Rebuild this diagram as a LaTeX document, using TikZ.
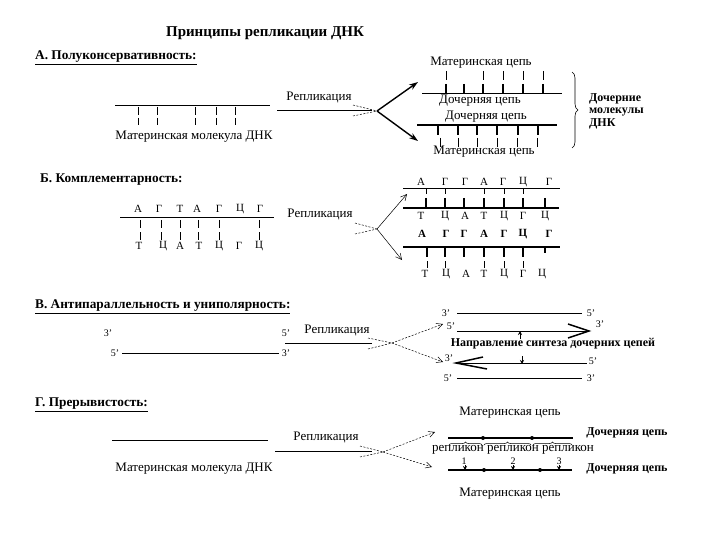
\documentclass[tikz,border=0pt]{standalone}
\usepackage{fontspec}
\setmainfont{Liberation Serif}
\usetikzlibrary{arrows.meta,decorations.pathreplacing}
\begin{document}
\begin{tikzpicture}[x=1pt,y=-1pt,
  lbl/.style={font=\fontsize{13}{14}\selectfont, inner sep=0pt},
  blbl/.style={font=\bfseries\fontsize{12}{13}\selectfont, inner sep=0pt},
  hdr/.style={font=\bfseries\fontsize{13.3}{15}\selectfont, inner sep=0pt, anchor=west},
  nuc/.style={font=\fontsize{11}{12}\selectfont, inner sep=0pt},
  bnuc/.style={font=\bfseries\fontsize{11}{12}\selectfont, inner sep=0pt},
  prm/.style={font=\fontsize{10}{11}\selectfont, inner sep=0pt},
  strand/.style={line width=0.7pt},
  strandthick/.style={line width=1.8pt},
  tk/.style={line width=0.6pt},
  tkthick/.style={line width=1.8pt},
  bigarr/.style={line width=1.4pt, -{Stealth[length=9pt,width=6pt]}},
  thinarr/.style={line width=0.5pt, -{Straight Barb[length=6pt,width=6pt]}},
  dasharr/.style={line width=0.5pt, dashed, dash pattern=on 2pt off 1.5pt, -{Straight Barb[length=6pt,width=6pt]}},
  entry/.style={line width=0.5pt, dash pattern=on 2pt off 1.5pt},
  ptr/.style={line width=0.8pt, -{Stealth[length=4pt,width=4pt]}},
  fat/.style={line width=1.5pt}
]
\useasboundingbox (0,0) rectangle (720,540);

% Title
\node[font=\bfseries\fontsize{15}{17}\selectfont, inner sep=0pt] (title) at (265,33) {Принципы репликации ДНК};

% ===== A =====
\node[hdr] (hA) at (35,58) {\underline{А. Полуконсервативность:}};
\draw[strand] (115,105) -- (270,105);
\foreach \x in {138,157,195,216,235} \draw[tk] (\x,107) -- (\x,115) (\x,118) -- (\x,125);
\node[lbl] (mA) at (194,137) {Материнская молекула ДНК};
\draw[strand] (277,110) -- (372,110);
\node[lbl] (repA) at (319,98) {Репликация};
\coordinate (fA) at (377,111);
\coordinate (eA1) at (353,105); \coordinate (eA2) at (353,116);
\draw[entry] (eA1) -- (fA); \draw[entry] (eA2) -- (fA);
\coordinate (uA) at (418,82); \coordinate (dA) at (418,141);
\draw[bigarr] (fA) -- (uA);
\draw[bigarr] (fA) -- (dA);
\node[lbl] (mcA1) at (481,63) {Материнская цепь};
\foreach \x in {446,483,503,523,543} \draw[tk] (\x,71) -- (\x,80);
\foreach \x in {446,464,483,503,523,543} \draw[tkthick] (\x,84) -- (\x,93);
\draw[strand] (422,93) -- (562,93);
\node[lbl] (dcA1) at (480,101) {Дочерняя цепь};
\node[lbl] (dcA2) at (486,117) {Дочерняя цепь};
\draw[strandthick] (417,125) -- (557,125);
\foreach \x in {438,458,477,497,518,538} \draw[tkthick] (\x,125) -- (\x,135);
\foreach \x in {440,458,477,497,517,537} \draw[tk] (\x,138) -- (\x,147);
\node[lbl] (mcA2) at (484,152) {Материнская цепь};
\draw[line width=0.6pt, decorate, decoration={brace, amplitude=6pt}] (572,72) -- (572,148);
\node[font=\bfseries\fontsize{12}{12.5}\selectfont, align=left, anchor=west, inner sep=0pt] (dmA) at (589,111) {Дочерние\\молекулы\\ДНК};

% ===== Б =====
\node[hdr] (hB) at (40,180) {Б. Комплементарность:};
\draw[strand] (120,217) -- (274,217);
\foreach \x/\t in {138/А,159/Г,180/Т,197/А,219/Г,240/Ц,260/Г} \node[nuc] (bl\x) at (\x,209) {\t};
\foreach \x in {140,161,180,198,219,259} \draw[tk] (\x,220) -- (\x,228) (\x,232) -- (\x,240);
\foreach \x/\t in {139/Т,163/Ц,180/А,199/Т,219/Ц,239/Г,259/Ц} \node[nuc] (bb\x) at (\x,246) {\t};
\node[lbl] (repB) at (320,215) {Репликация};
\coordinate (fB) at (377,229);
\coordinate (eB1) at (355,223); \coordinate (eB2) at (355,234);
\draw[entry] (eB1) -- (fB); \draw[entry] (eB2) -- (fB);
\coordinate (uB) at (407,194); \coordinate (dB) at (402,260);
\draw[thinarr] (fB) -- (uB);
\draw[thinarr] (fB) -- (dB);
% top pair
\foreach \x/\t in {421/А,445/Г,465/Г,484/А,503/Г,523/Ц,549/Г} \node[nuc] (rt\x) at (\x,182) {\t};
\draw[strand] (403,188) -- (560,188);
\foreach \x in {426,445,484,504,523} \draw[tk] (\x,188) -- (\x,194);
\foreach \x in {426,445,464,484,504,523,545} \draw[tkthick] (\x,198) -- (\x,207);
\draw[strandthick] (403,208) -- (559,208);
\foreach \x/\t in {421/Т,445/Ц,465/А,484/Т,504/Ц,523/Г,545/Ц} \node[nuc] (rs\x) at (\x,216) {\t};
% bottom pair
\foreach \x/\t in {422/А,446/Г,464/Г,484/А,504/Г,523/Ц,549/Г} \node[bnuc] (ru\x) at (\x,234) {\t};
\draw[strandthick] (403,247) -- (560,247);
\foreach \x in {427,445,464,484,504,523} \draw[tkthick] (\x,247) -- (\x,257);
\draw[tkthick] (545,247) -- (545,253);
\foreach \x in {427,445,484,504,523} \draw[tk] (\x,261) -- (\x,268);
\foreach \x/\t in {425/Т,446/Ц,466/А,484/Т,504/Ц,523/Г,542/Ц} \node[nuc] (rv\x) at (\x,274) {\t};

% ===== В =====
\node[hdr] (hV) at (35,307) {\underline{В. Антипараллельность и униполярность:}};
\node[prm] (v1) at (108,333) {3'};
\node[prm] (v2) at (286,333) {5'};
\draw[strand] (285,343) -- (372,343);
\node[lbl] (repV) at (337,330) {Репликация};
\node[prm] (v3) at (115,353) {5'};
\draw[strand] (122,353) -- (279,353);
\node[prm] (v4) at (286,353) {3'};
\coordinate (fV) at (392,343);
\coordinate (eV1) at (368,338); \coordinate (eV2) at (368,349);
\draw[entry] (eV1) -- (fV); \draw[entry] (eV2) -- (fV);
\coordinate (uV) at (443,324); \coordinate (dV) at (443,362);
\draw[dasharr] (fV) -- (uV);
\draw[dasharr] (fV) -- (dV);
% right rows
\node[prm] (w1a) at (446,313) {3'};
\draw[strand] (457,313) -- (582,313);
\node[prm] (w1b) at (591,313) {5'};
\node[prm] (w2a) at (451,326) {5'};
\draw[strand] (457,331) -- (588,331);
\draw[fat] (568,324) -- (589,331) -- (568,338);
\node[prm] (w2b) at (600,324) {3'};
\coordinate (pu1) at (520,339); \coordinate (pu2) at (520,331);
\draw[ptr] (pu1) -- (pu2);
\node[blbl] (dir) at (553,344) {Направление синтеза дочерних цепей};
\coordinate (pd1) at (522,356); \coordinate (pd2) at (522,364);
\draw[ptr] (pd1) -- (pd2);
\node[prm] (w3a) at (449,358) {3'};
\draw[strand] (456,363) -- (587,363);
\draw[fat] (483,357) -- (456,363) -- (487,369);
\node[prm] (w3b) at (593,361) {5'};
\node[prm] (w4a) at (448,378) {5'};
\draw[strand] (457,378) -- (582,378);
\node[prm] (w4b) at (591,378) {3'};

% ===== Г =====
\node[hdr] (hG) at (35,405) {\underline{Г. Прерывистость:}};
\draw[strand] (112,440) -- (268,440);
\node[lbl] (mG) at (194,469) {Материнская молекула ДНК};
\draw[strand] (275,451) -- (372,451);
\node[lbl] (repG) at (326,437) {Репликация};
\coordinate (fG) at (383,452);
\coordinate (eG1) at (360,446); \coordinate (eG2) at (360,457);
\draw[entry] (eG1) -- (fG); \draw[entry] (eG2) -- (fG);
\coordinate (uG) at (435,432); \coordinate (dG) at (432,467);
\draw[dasharr] (fG) -- (uG);
\draw[dasharr] (fG) -- (dG);
\node[lbl] (mcG1) at (510,413) {Материнская цепь};
\draw[strandthick] (448,438) -- (573,438);
\foreach \x in {483,532} \fill (\x,438) circle (2pt);
\draw[line width=0.5pt, decorate, decoration={brace, amplitude=3pt}] (449,445) -- (482,445);
\draw[line width=0.5pt, decorate, decoration={brace, amplitude=3pt}] (484,445) -- (531,445);
\draw[line width=0.5pt, decorate, decoration={brace, amplitude=3pt}] (533,445) -- (572,445);
\node[blbl] (dcG1) at (627,433) {Дочерняя цепь};
\node[lbl] (repl) at (513,450) {репликон репликон репликон};
\node[prm] (n1) at (464,461) {1};
\node[prm] (n2) at (513,461) {2};
\node[prm] (n3) at (559,461) {3};
\foreach \x in {465,513,559} \draw[ptr] (\x,465) -- (\x,470);
\draw[strandthick] (448,470) -- (572,470);
\foreach \x in {484,540} \fill (\x,470) circle (2pt);
\node[blbl] (dcG2) at (627,469) {Дочерняя цепь};
\node[lbl] (mcG2) at (510,494) {Материнская цепь};
\end{tikzpicture}
\end{document}
